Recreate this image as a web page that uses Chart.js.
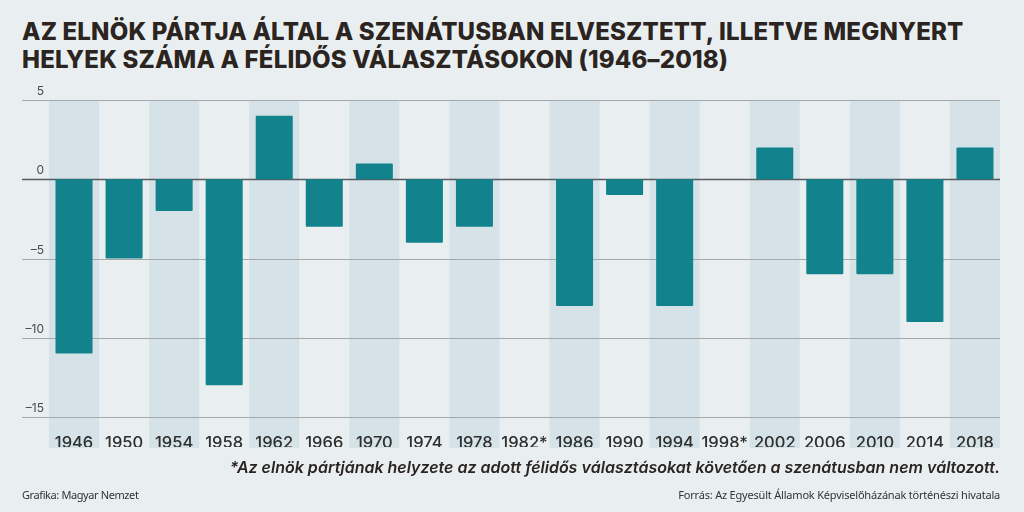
<!DOCTYPE html>
<html>
<head>
<meta charset="utf-8">
<script src="https://cdn.jsdelivr.net/npm/chart.js@4"></script>
<style>
  html, body { margin: 0; padding: 0; }
  body { width: 1024px; height: 512px; background: #e9eff1; position: relative; overflow: hidden; font-family: Inter, "Noto Sans", sans-serif; }
  #title { position: absolute; left: 22px; top: 18px; font-weight: 800; font-size: 24px; line-height: 28px; color: #2b2420; letter-spacing: 0.18px; white-space: nowrap; }
  #wrap { position: absolute; left: 0; top: 0; width: 1024px; height: 512px; }
  #note { position: absolute; right: 24px; top: 457px; font-style: italic; font-weight: 600; font-size: 16px; color: #2b2420; white-space: nowrap; }
  .src { position: absolute; top: 487px; font-family: "Noto Sans", sans-serif; font-size: 11px; letter-spacing: -0.2px; color: #333; white-space: nowrap; }
</style>
</head>
<body>
<div id="title">AZ ELNÖK PÁRTJA ÁLTAL A SZENÁTUSBAN ELVESZTETT, ILLETVE MEGNYERT<br>HELYEK SZÁMA A FÉLIDŐS VÁLASZTÁSOKON (1946–2018)</div>
<div id="wrap"><canvas id="chart" width="1024" height="512"></canvas></div>
<div id="note">*Az elnök pártjának helyzete az adott félidős választásokat követően a szenátusban nem változott.</div>
<div class="src" style="left:22px; letter-spacing:-0.4px">Grafika: Magyar Nemzet</div>
<div class="src" style="right:24px">Forrás: Az Egyesült Államok Képviselőházának történészi hivatala</div>
<script>
const years = ['1946', '1950', '1954', '1958', '1962', '1966', '1970', '1974', '1978', '1982*',
  '1986', '1990', '1994', '1998*', '2002', '2006', '2010', '2014', '2018'];
const seats = [-11, -5, -2, -13, 4, -3, 1, -4, -3, 0, -8, -1, -8, 0, 2, -6, -6, -9, 2];
const yTicks = [5, 0, -5, -10, -15];

const bandsAndGrid = {
  id: 'bandsAndGrid',
  beforeDraw(chart) {
    const ctx = chart.ctx, x = chart.scales.x, area = chart.chartArea;
    const w = (area.right - area.left) / years.length;
    ctx.save();
    ctx.fillStyle = '#d5e2e8';
    for (let i = 0; i < years.length; i += 2) {
      const cx = x.getPixelForValue(i);
      ctx.fillRect(cx - w / 2, area.top, w, 448 - area.top);
    }
    ctx.restore();
  },
  beforeDatasetsDraw(chart) {
    const ctx = chart.ctx, y = chart.scales.y, area = chart.chartArea;
    ctx.save();
    ctx.font = '12px Inter, "Noto Sans", sans-serif';
    ctx.textAlign = 'right';
    ctx.textBaseline = 'bottom';
    yTicks.forEach(v => {
      const py = Math.round(y.getPixelForValue(v)) + 0.5;
      ctx.strokeStyle = v === 0 ? '#555b5e' : '#a3a8aa';
      ctx.lineWidth = v === 0 ? 1.6 : 1.2;
      ctx.beginPath();
      ctx.moveTo(22, py);
      ctx.lineTo(area.right, py);
      ctx.stroke();
      ctx.fillStyle = '#4a4a4a';
      ctx.fillText(v < 0 ? '–' + Math.abs(v) : String(v), 44, py - 3);
    });
    ctx.restore();
  }
};

new Chart(document.getElementById('chart'), {
  type: 'bar',
  data: {
    labels: years,
    datasets: [{
      data: seats,
      backgroundColor: '#12838c',
      barPercentage: 0.74,
      categoryPercentage: 1,
      borderRadius: 1,
      borderSkipped: false
    }]
  },
  options: {
    responsive: false,
    animation: false,
    devicePixelRatio: 1,
    layout: { padding: { left: 49, right: 24, top: 100, bottom: 65 } },
    plugins: { legend: { display: false }, tooltip: { enabled: false } },
    scales: {
      x: {
        grid: { display: false },
        border: { display: false },
        ticks: {
          autoSkip: false, maxRotation: 0, padding: 8,
          color: '#2e2e2e',
          font: { family: 'Inter, "Noto Sans", sans-serif', size: 16.5, weight: '500' }
        },
        afterFit(scale) { scale.height = 30; }
      },
      y: { display: false, min: -15, max: 5 }
    }
  },
  plugins: [bandsAndGrid]
});
</script>
</body>
</html>
